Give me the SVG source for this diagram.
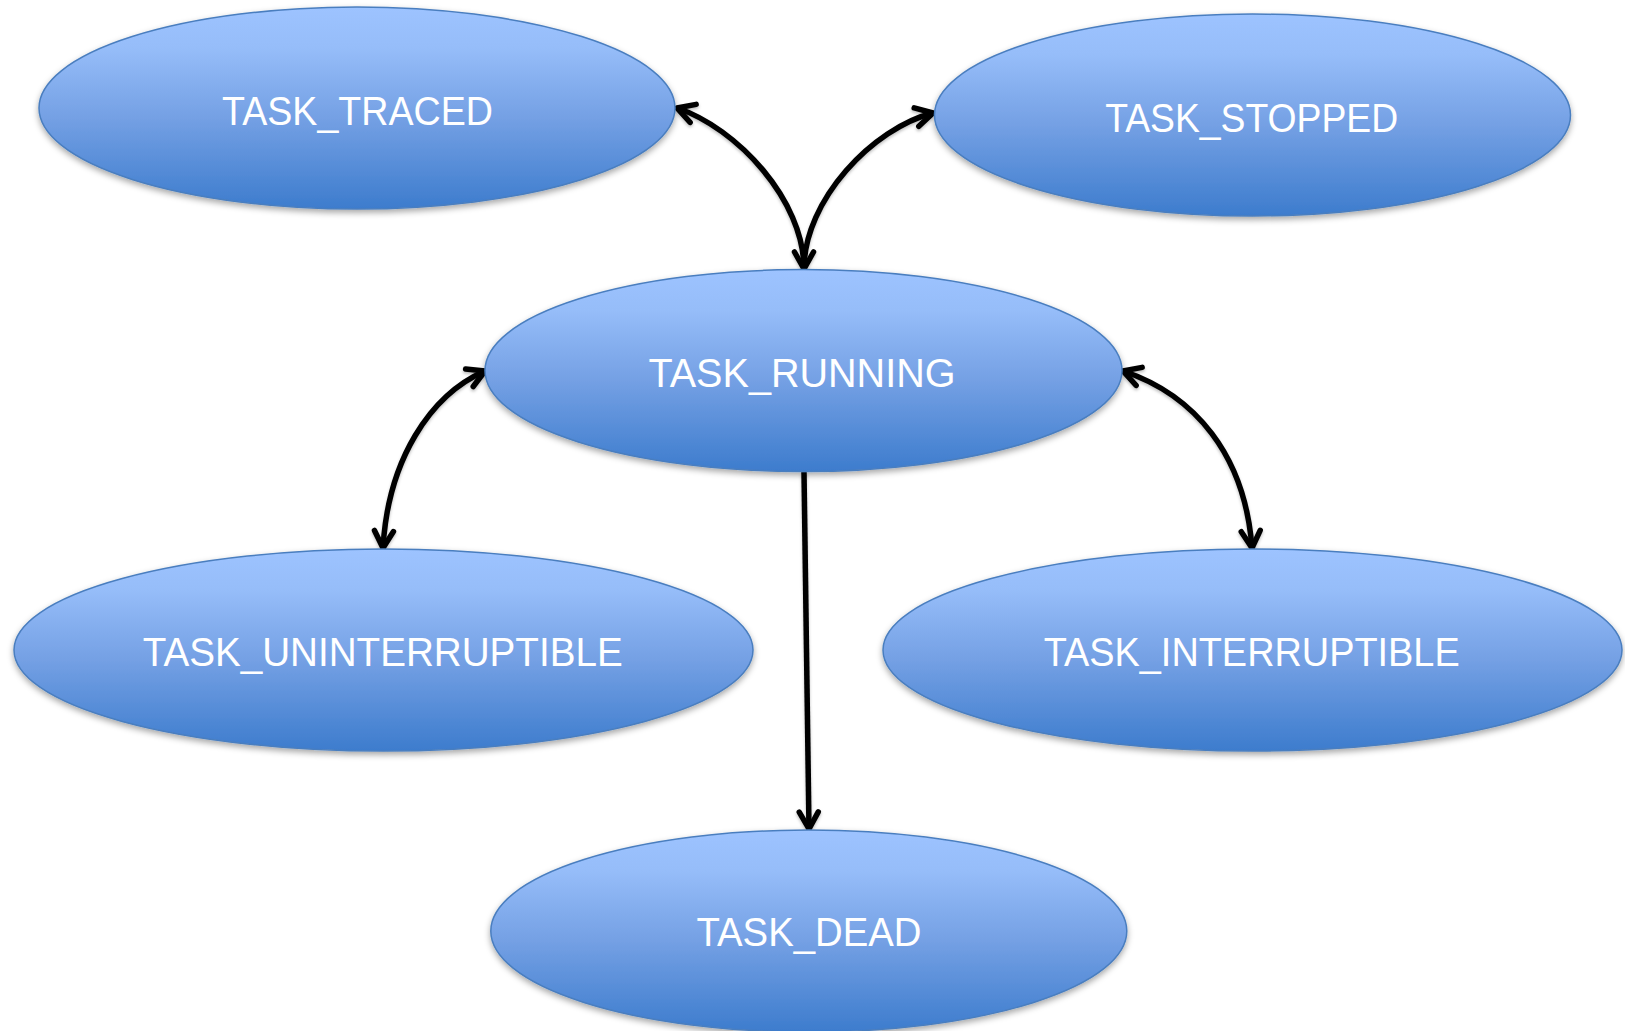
<svg xmlns="http://www.w3.org/2000/svg" width="1625" height="1031" viewBox="0 0 1625 1031">
  <defs>
    <linearGradient id="fill" x1="0" y1="0" x2="0" y2="1">
      <stop offset="0" stop-color="#9DC3FF"/>
      <stop offset="0.2" stop-color="#96BDF9"/>
      <stop offset="0.55" stop-color="#74A0E4"/>
      <stop offset="1" stop-color="#3D7CCD"/>
    </linearGradient>
    <filter id="shadow" x="-10%" y="-10%" width="120%" height="130%">
      <feDropShadow dx="0" dy="3" stdDeviation="3" flood-color="#000" flood-opacity="0.35"/>
    </filter>
    <filter id="lshadow" x="-20%" y="-20%" width="140%" height="140%">
      <feDropShadow dx="0" dy="2" stdDeviation="1.5" flood-color="#000" flood-opacity="0.25"/>
    </filter>
    <marker id="arrow" markerUnits="userSpaceOnUse" markerWidth="40" markerHeight="40" refX="0" refY="0" orient="auto-start-reverse" overflow="visible">
      <path d="M-17,-9.5 L0,0 L-17,9.5" fill="none" stroke="#000" stroke-width="5.5" stroke-linecap="round" stroke-linejoin="round"/>
    </marker>
    <style>
      .node ellipse { fill: url(#fill); stroke: #4A7EBF; stroke-width: 1.5; filter: url(#shadow); }
      .node text { font-family: "Liberation Sans", Arial, sans-serif; font-size: 41px; fill: #FFFFFF; text-anchor: middle; }
      .edge { fill: none; stroke: #000; stroke-width: 5.5; }
    </style>
  </defs>

  <g id="connectors" filter="url(#lshadow)">
    <path class="edge" d="M677,108 C737,128 804,200 804,269" marker-start="url(#arrow)" marker-end="url(#arrow)"/>
    <path class="edge" d="M804,269 C804,200 873,128 933,113" marker-end="url(#arrow)"/>
    <path class="edge" d="M485,371 C430,395 388,460 383,548" marker-start="url(#arrow)" marker-end="url(#arrow)"/>
    <path class="edge" d="M1123,371 C1195,395 1245,455 1252,548" marker-start="url(#arrow)" marker-end="url(#arrow)"/>
    <path class="edge" d="M804,472 L809,829" marker-end="url(#arrow)"/>
  </g>

  <g id="node-traced" class="node">
    <ellipse cx="357" cy="108" rx="318" ry="101"/>
    <text x="357.5" y="124.5" textLength="271" lengthAdjust="spacingAndGlyphs">TASK_TRACED</text>
  </g>
  <g id="node-stopped" class="node">
    <ellipse cx="1252.5" cy="115" rx="318" ry="101"/>
    <text x="1251.7" y="131.7" textLength="293" lengthAdjust="spacingAndGlyphs">TASK_STOPPED</text>
  </g>
  <g id="node-running" class="node">
    <ellipse cx="803.5" cy="370.5" rx="318.5" ry="101"/>
    <text x="802" y="387.3" textLength="307" lengthAdjust="spacingAndGlyphs">TASK_RUNNING</text>
  </g>
  <g id="node-uninterruptible" class="node">
    <ellipse cx="383.5" cy="650" rx="369.5" ry="101"/>
    <text x="382.7" y="666" textLength="480" lengthAdjust="spacingAndGlyphs">TASK_UNINTERRUPTIBLE</text>
  </g>
  <g id="node-interruptible" class="node">
    <ellipse cx="1252.5" cy="650" rx="369.5" ry="101"/>
    <text x="1251.7" y="666" textLength="416" lengthAdjust="spacingAndGlyphs">TASK_INTERRUPTIBLE</text>
  </g>
  <g id="node-dead" class="node">
    <ellipse cx="808.8" cy="931" rx="318" ry="101"/>
    <text x="809" y="946" textLength="225" lengthAdjust="spacingAndGlyphs">TASK_DEAD</text>
  </g>
</svg>
